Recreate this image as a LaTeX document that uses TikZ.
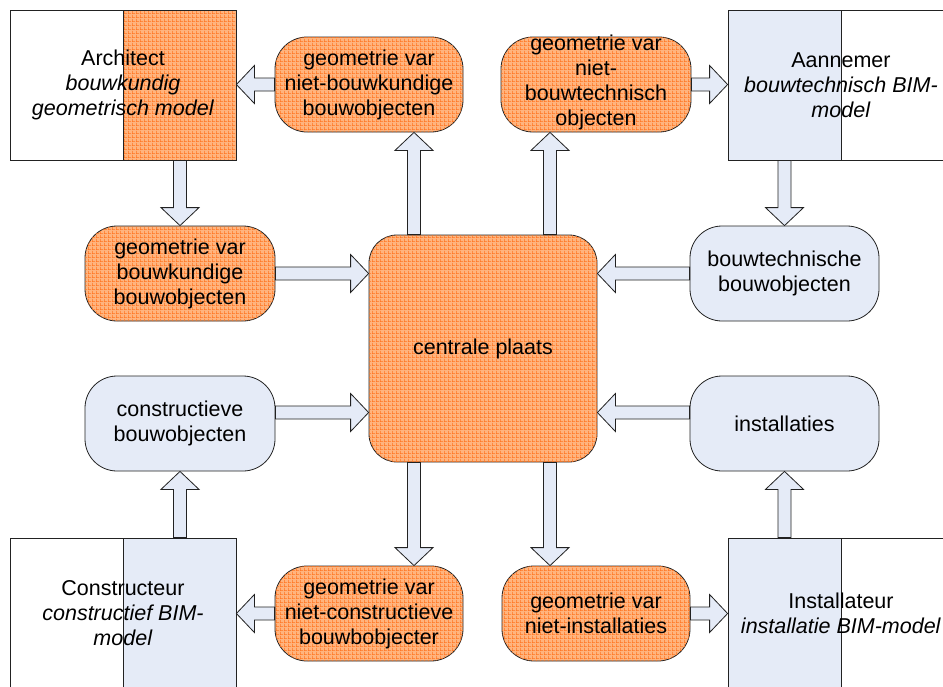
\documentclass[tikz,border=0pt]{standalone}
\usepackage{fontspec}
\setmainfont{Liberation Sans}
\usetikzlibrary{calc,patterns}

% fine orange grid used as hatching
\pgfdeclarepatternformonly{ogrid}{\pgfpointorigin}{\pgfqpoint{4pt}{4pt}}{\pgfqpoint{4pt}{4pt}}{%
  \pgfsetlinewidth{0.8pt}%
  \pgfpathmoveto{\pgfqpoint{0pt}{0.4pt}}\pgfpathlineto{\pgfqpoint{4pt}{0.4pt}}%
  \pgfpathmoveto{\pgfqpoint{0.4pt}{0pt}}\pgfpathlineto{\pgfqpoint{0.4pt}{4pt}}%
  \pgfusepath{stroke}}

\definecolor{gridbg}{HTML}{FFB47E}
\definecolor{gridln}{HTML}{FF7420}
\definecolor{paleblue}{HTML}{E5EBF7}
\definecolor{edge}{HTML}{222222}

\tikzset{
  txt/.style={font=\fontsize{21.5}{25}\selectfont, align=center, text=black},
  rbox/.style={txt, draw=edge, line width=0.8pt, rounded corners=32pt,
    minimum height=95pt, inner sep=2pt},
  orangefill/.style={fill=gridbg, postaction={pattern=ogrid, pattern color=gridln}},
  bluefill/.style={fill=paleblue},
  cornerbox/.style={txt, draw=edge, line width=0.8pt, minimum width=226pt,
    minimum height=150pt, inner sep=0pt},
  halves/.style n args={2}{path picture={
    \fill[#1] (path picture bounding box.south west) rectangle (path picture bounding box.north);
    \fill[#2] (path picture bounding box.south) rectangle (path picture bounding box.north east);
    \draw[edge, line width=0.8pt] (path picture bounding box.south) -- (path picture bounding box.north);}},
  leftorange/.style={path picture={
    \fill[white] (path picture bounding box.south west) rectangle (path picture bounding box.north);
    \fill[gridbg] (path picture bounding box.south) rectangle (path picture bounding box.north east);
    \path[pattern=ogrid, pattern color=gridln] (path picture bounding box.south) rectangle (path picture bounding box.north east);
    \draw[edge, line width=0.8pt] (path picture bounding box.south) -- (path picture bounding box.north);}},
  blockarrow/.style={fill=paleblue, draw=edge, line width=0.8pt, line join=miter,
    to path={
      ($(\tikztostart)!6.5pt!90:(\tikztotarget)$) --
      ($(\tikztotarget)!18pt!(\tikztostart)!6.5pt!-90:(\tikztostart)$) --
      ($(\tikztotarget)!18pt!(\tikztostart)!19pt!-90:(\tikztostart)$) --
      (\tikztotarget) --
      ($(\tikztotarget)!18pt!(\tikztostart)!19pt!90:(\tikztostart)$) --
      ($(\tikztotarget)!18pt!(\tikztostart)!6.5pt!90:(\tikztostart)$) --
      ($(\tikztostart)!6.5pt!-90:(\tikztotarget)$) -- cycle}}
}

\begin{document}
\begin{tikzpicture}[x=1pt, y=-1pt]
  \useasboundingbox (0,0) rectangle (943,686);
  \clip (0,0) rectangle (943,686);
  \fill[white] (0,0) rectangle (943,686);

  % the four parties, each a box split in two halves
  \node[cornerbox, leftorange] (arch) at (123,85)
    {Architect\\\textit{bouwkundig}\\\textit{geometrisch model}};
  \node[cornerbox, halves={paleblue}{white}] (ann) at (841,85)
    {Aannemer\\\textit{bouwtechnisch BIM-}\\\textit{model}};
  \node[cornerbox, halves={white}{paleblue}] (con) at (123,613)
    {Constructeur\\\textit{constructief BIM-}\\\textit{model}};
  \node[cornerbox, halves={paleblue}{white}] (ins) at (841,613)
    {Installateur\\\textit{installatie BIM-model}};

  % shared model in the middle
  \node[rbox, orangefill, rounded corners=28pt, minimum width=228pt, minimum height=227pt]
    (ctr) at (483,348.5) {centrale plaats};

  % object sets
  \node[rbox, orangefill, minimum width=188pt] (nbk) at (369,84.5)
    {geometrie var\\niet-bouwkundige\\bouwobjecten};
  \node[rbox, orangefill, minimum width=190pt] (nbt) at (596,84.5) {};
  \node[txt] (nbtlabel) at (596,82.5) {geometrie var\\niet-\\bouwtechnisch\\objecten};
  \node[rbox, orangefill, minimum width=190pt] (bk) at (180,273.5)
    {geometrie var\\bouwkundige\\bouwobjecten};
  \node[rbox, bluefill, minimum width=189pt] (bt) at (784.5,273.5)
    {bouwtechnische\\bouwobjecten};
  \node[rbox, bluefill, minimum width=190pt] (cv) at (180,423.5)
    {constructieve\\bouwobjecten};
  \node[rbox, bluefill, minimum width=189pt] (inst) at (784.5,423.5)
    {installaties};
  \node[rbox, orangefill, minimum width=188pt] (nc) at (369,613.5)
    {geometrie var\\niet-constructieve\\bouwbobjecter};
  \node[rbox, orangefill, minimum width=188pt] (ni) at (596,613.5)
    {geometrie var\\niet-installaties};

  % flows between the parts
  \draw[blockarrow] (bk.north |- arch.south) to (bk.north);
  \draw[blockarrow] ($(ctr.north)+(-69,0)$) to ($(nbk.south)+(45,0)$);
  \draw[blockarrow] (nbk.west) to (arch.east |- nbk.west);
  \draw[blockarrow] ($(ctr.north)+(67,0)$) to ($(nbt.south)+(-46,0)$);
  \draw[blockarrow] (nbt.east) to (ann.west |- nbt.east);
  \draw[blockarrow] (bt.north |- ann.south) to (bt.north);
  \draw[blockarrow] (bt.west) to (ctr.east |- bt.west);
  \draw[blockarrow] (bk.east) to (ctr.west |- bk.east);
  \draw[blockarrow] ($(cv.east)+(0,-11)$) to ($(ctr.west |- cv.east)+(0,-11)$);
  \draw[blockarrow] ($(inst.west)+(0,-11)$) to ($(ctr.east |- inst.west)+(0,-11)$);
  \draw[blockarrow] (cv.south |- con.north) to (cv.south);
  \draw[blockarrow] ($(ctr.south)+(-69,0)$) to ($(nc.north)+(45,0)$);
  \draw[blockarrow] (nc.west) to (con.east |- nc.west);
  \draw[blockarrow] ($(ctr.south)+(67,0)$) to ($(ni.north)+(-46,0)$);
  \draw[blockarrow] (ni.east) to (ins.west |- ni.east);
  \draw[blockarrow] (inst.south |- ins.north) to (inst.south);
\end{tikzpicture}
\end{document}
